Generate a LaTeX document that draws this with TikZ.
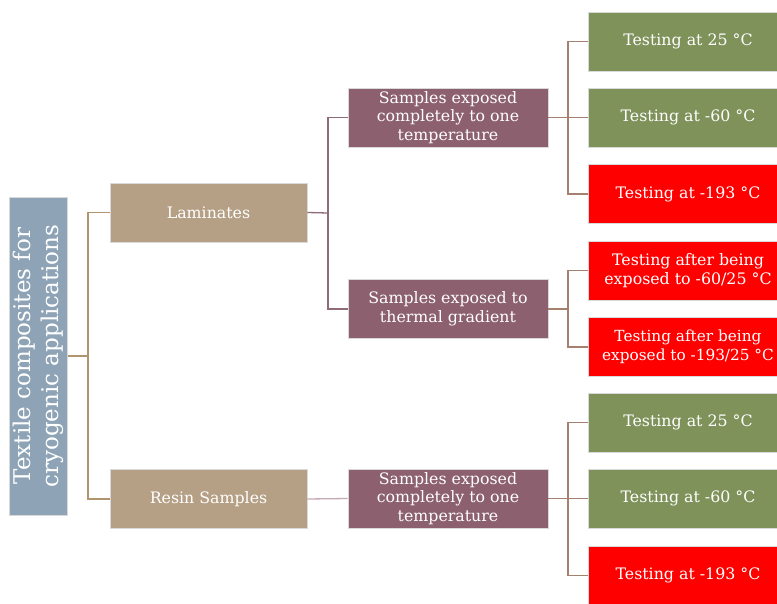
\documentclass[tikz,border=0pt]{standalone}
\usepackage{fontspec}
\setmainfont{DejaVu Serif}
\definecolor{rootc}{HTML}{8EA4B6}
\definecolor{tanc}{HTML}{B5A086}
\definecolor{mauvec}{HTML}{8C606F}
\definecolor{greenc}{HTML}{7F925A}
\definecolor{redc}{HTML}{FF0000}
\definecolor{lineA}{HTML}{B0946E}
\definecolor{lineB}{HTML}{8F6B77}
\definecolor{lineC}{HTML}{C6AAB3}
\definecolor{lineD}{HTML}{A5806F}
\tikzset{
  box/.style={rectangle, draw=white!85!black, line width=0.6pt, text=white, align=center, inner sep=0pt,
    font=\fontsize{15.8}{18.6}\selectfont},
  tanbox/.style={box, fill=tanc, minimum width=197, minimum height=59},
  mbox/.style={box, fill=mauvec, minimum width=200, minimum height=59},
  gbox/.style={box, fill=greenc, minimum width=200, minimum height=59},
  rbox/.style={box, fill=redc, minimum width=200, minimum height=59},
  conn/.style={line width=1.3pt},
}
\begin{document}
\begin{tikzpicture}[x=1pt,y=-1pt]
\useasboundingbox (0,0) rectangle (777,604);
\fill[white] (0,0) rectangle (777,604);
\node[box, fill=rootc, rotate=90, minimum width=318, minimum height=58,
  font=\fontsize{23}{27.5}\selectfont] (root) at (38.5,356) {Textile composites for\\cryogenic applications};
\node[tanbox] (lam) at (208.5,212.5) {Laminates};
\node[tanbox] (res) at (208.5,499) {Resin Samples};
\node[mbox] (m1) at (448,117.5) {Samples exposed\\completely to one\\temperature};
\node[mbox] (m2) at (448,309) {Samples exposed to\\thermal gradient};
\node[mbox] (m3) at (448,498.5) {Samples exposed\\completely to one\\temperature};
\node[gbox] (t1) at (688,41.5) {Testing at 25 °C};
\node[gbox] (t2) at (688,117.5) {Testing at -60 °C};
\node[rbox] (t3) at (688,194) {Testing at -193 °C};
\node[rbox] (t4) at (688,270.5) {Testing after being\\exposed to -60/25 °C};
\node[rbox, font=\fontsize{15.3}{18.6}\selectfont] (t5) at (688,347) {Testing after being\\exposed to -193/25 °C};
\node[gbox] (t6) at (688,422.5) {Testing at 25 °C};
\node[gbox] (t7) at (688,498.5) {Testing at -60 °C};
\node[rbox] (t8) at (688,575.5) {Testing at -193 °C};
\coordinate (j1) at (88,356);
\coordinate (j2) at (328,213);
\coordinate (j3) at (568,117.5);
\coordinate (j4) at (568,309);
\coordinate (j5) at (568,498.5);
\draw[conn, lineA] (root.south) -- (j1);
\draw[conn, lineA] (lam.west) -| (j1) |- (res.west);
\draw[conn, lineB] (lam.east) -- (j2);
\draw[conn, lineB] (m1.west) -| (j2) |- (m2.west);
\draw[conn, lineC] (res.east) -- (m3.west);
\draw[conn, lineD] (m1.east) -- (j3);
\draw[conn, lineD] (t1.west) -| (j3) |- (t3.west);
\draw[conn, lineD] (j3) -- (t2.west);
\draw[conn, lineD] (m2.east) -- (j4);
\draw[conn, lineD] (t4.west) -| (j4) |- (t5.west);
\draw[conn, lineD] (m3.east) -- (j5);
\draw[conn, lineD] (t6.west) -| (j5) |- (t8.west);
\draw[conn, lineD] (j5) -- (t7.west);
\end{tikzpicture}
\end{document}
